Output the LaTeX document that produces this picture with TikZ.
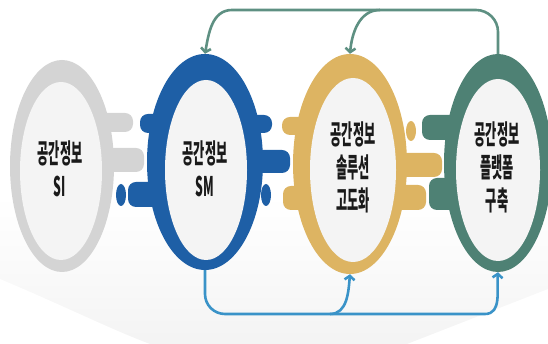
\documentclass[tikz,border=0pt]{standalone}
\usepackage{fontspec}
\newfontfamily\kr[FakeStretch=0.45]{Noto Sans CJK KR}
\usetikzlibrary{shapes.geometric,arrows.meta}
\definecolor{cgray}{HTML}{D4D4D4}
\definecolor{cin}{HTML}{F4F4F4}
\definecolor{cblue}{HTML}{1E5FA6}
\definecolor{cgold}{HTML}{DDB462}
\definecolor{cteal}{HTML}{4E8174}
\definecolor{ctop}{HTML}{5E9082}
\definecolor{cbot}{HTML}{3A93C8}
\definecolor{ctxt}{HTML}{1A1A1A}
\begin{document}
\begin{tikzpicture}[x=1pt,y=1pt,
  tab/.style={rounded corners=8pt},
  ring/.style={ellipse, inner sep=0pt, draw=none},
  lbl/.style={align=center, inner sep=0pt, text=ctxt, font=\kr\bfseries\fontsize{27}{33}\selectfont},
  topc/.style={draw=ctop, line width=2.6pt, -{Straight Barb[length=4pt,width=10pt]}},
  botc/.style={draw=cbot, line width=2.6pt, -{Straight Barb[length=4pt,width=10pt]}}]
\useasboundingbox (0,0) rectangle (548,344);
% floor shade
\shade[top color=white, bottom color=gray!9, middle color=gray!4] (0,65) .. controls (60,40) and (110,15) .. (150,0) -- (407,0) -- (548,55) -- (548,150) -- (0,150) -- cycle;
\fill[white] (0,150) rectangle (548,170);
% tabs gap 1
\fill[cgray,tab] (95,212) rectangle (133,231);
\fill[cgray,tab] (95,172) rectangle (144,196);
\fill[cblue,tab] (140,211) rectangle (175,230);
\fill[cblue,tab] (128,137) rectangle (175,162);
\fill[cblue] (121,149) ellipse [x radius=5, y radius=11];
% tabs gap 2
\fill[cblue,tab] (240,211) rectangle (272,229);
\fill[cblue,tab] (240,171) rectangle (290,194);
\fill[cblue] (266,149) ellipse [x radius=5, y radius=11];
\fill[cgold,tab] (282,209) rectangle (315,227);
\fill[cgold,tab] (283,134) rectangle (315,158);
% tabs gap 3
\fill[cgold] (411,213) ellipse [x radius=5, y radius=10];
\fill[cgold,tab] (390,167) rectangle (442,191);
\fill[cgold,tab] (390,134) rectangle (426,159);
\fill[cteal,tab] (422,204) rectangle (460,229);
\fill[cteal,tab] (429,134) rectangle (460,166);
% rings
\node[ring, fill=cgray, minimum width=104pt, minimum height=212pt] (si) at (62,178) {};
\node[ring, fill=cin, minimum width=82pt, minimum height=178pt] (si-in) at (61,173) {};
\node[ring, fill=cblue, minimum width=116pt, minimum height=216pt] (sm) at (205,182) {};
\node[ring, fill=cin, minimum width=82pt, minimum height=180pt] (sm-in) at (206,174) {};
\node[ring, fill=cgold, minimum width=114pt, minimum height=220pt] (gd) at (350,180) {};
\node[ring, fill=cin, minimum width=86pt, minimum height=184pt] (gd-in) at (353,174) {};
\node[ring, fill=cteal, minimum width=108pt, minimum height=218pt] (pf) at (498,181) {};
\node[ring, fill=cin, minimum width=84pt, minimum height=182pt] (pf-in) at (498,174) {};
% labels
\node[lbl] (si-t) at (60,175) {공간정보\\SI};
\node[lbl] (sm-t) at (205,175) {공간정보\\SM};
\node[lbl] (gd-t) at (353,177) {공간정보\\솔루션\\고도화};
\node[lbl] (pf-t) at (497,177) {공간정보\\플랫폼\\구축};
% top connectors
\draw[topc] (pf.north) -- (498,312) to[out=90,in=0] (476,334) -- (232,334) to[out=180,in=80] (sm.north);
\draw[topc] (380,334) to[out=180,in=85] (gd.north);
% bottom connectors
\draw[botc] (sm.south) -- (205,50) to[out=-90,in=180] (225,30) -- (485,30) to[out=0,in=-95] (pf.south);
\draw[botc] (330,30) to[out=0,in=-95] (gd.south);
\end{tikzpicture}
\end{document}
